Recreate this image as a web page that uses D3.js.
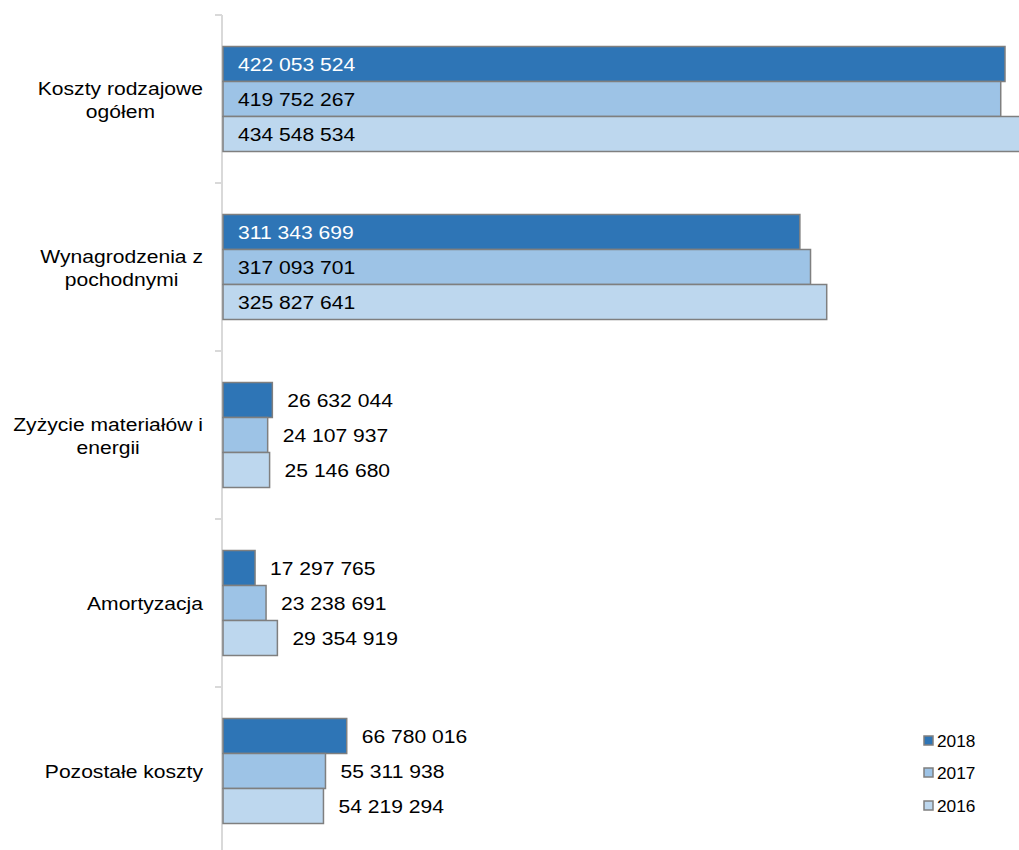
<!DOCTYPE html>
<html><head><meta charset="utf-8">
<script src="https://cdn.jsdelivr.net/npm/d3@7"></script>
<style>body{margin:0;background:#fff}svg{display:block}text{font-family:"Liberation Sans",Arial,sans-serif}</style>
</head><body>
<svg id="c" width="1019" height="850"></svg>
<script>
const categories = [["Koszty rodzajowe","ogółem"],["Wynagrodzenia z","pochodnymi"],["Zyżycie materiałów i","energii"],["Amortyzacja"],["Pozostałe koszty"]];
const seriesNames = ["2018","2017","2016"];
const seriesColors = ["#2e75b6","#9dc3e6","#bdd7ee"];
const values2018 = [422053524, 311343699, 26632044, 17297765, 66780016];
const values2017 = [419752267, 317093701, 24107937, 23238691, 55311938];
const values2016 = [434548534, 325827641, 25146680, 29354919, 54219294];
const seriesValues = [values2018, values2017, values2016];

const svg = d3.select("#c");
const SX = 1.14, FS = 18.5;
const x0 = 223;
const k = 782 / 422053524;
const x = d3.scaleLinear().domain([0, 450000000]).range([x0, x0 + 450000000 * k]);
const y = d3.scaleBand().domain(d3.range(categories.length)).range([15, 855]).paddingInner(0.375).paddingOuter(0.1875);
const ys = d3.scaleBand().domain(d3.range(seriesNames.length)).range([0, y.bandwidth()]);
const fmt = v => String(v).replace(/\B(?=(\d{3})+(?!\d))/g, " ");

function txt(px, py, s, opts = {}) {
  return svg.append("text")
    .attr("transform", `translate(${px},${py}) scale(${opts.sx || SX},1)`)
    .attr("text-anchor", opts.anchor || "start")
    .attr("font-size", opts.fs || FS)
    .attr("fill", opts.fill || "#000")
    .text(s);
}

// axis
svg.append("line").attr("x1", 222).attr("x2", 222).attr("y1", 15).attr("y2", 850).attr("stroke", "#d9d9d9").attr("stroke-width", 2);
const step = y.step();
for (let i = 0; i < categories.length; i++) {
  const yy = 15 + step * i;
  svg.append("line").attr("x1", 215).attr("x2", 222).attr("y1", yy).attr("y2", yy).attr("stroke", "#d9d9d9").attr("stroke-width", 2);
}

categories.forEach((cat, i) => {
  const cy = y(i) + y.bandwidth() / 2;
  const n = cat.length;
  // measure widest line
  const widths = cat.map(line => {
    const t = txt(0, -100, line);
    const w = t.node().getComputedTextLength() * SX;
    t.remove();
    return w;
  });
  const maxW = Math.max(...widths);
  const cx = 203 - maxW / 2;
  cat.forEach((line, j) => {
    txt(cx, cy + 7 + (j - (n - 1) / 2) * 23, line, { anchor: "middle" });
  });
  seriesValues.forEach((vals, s) => {
    const v = vals[i];
    const by = y(i) + ys(s);
    const bw = x(v) - x0;
    svg.append("rect").attr("x", x0).attr("y", by).attr("width", bw).attr("height", ys.bandwidth())
      .attr("fill", seriesColors[s]).attr("stroke", "#7f7f7f").attr("stroke-width", 1.5);
    const inside = bw > 200;
    txt(inside ? x0 + 15 : x(v) + 15, by + ys.bandwidth() / 2 + 6.5, fmt(v), { fill: inside && s === 0 ? "#fff" : "#000" });
  });
});

// legend
const ly = [741, 773, 806];
seriesNames.forEach((nm, s) => {
  svg.append("rect").attr("x", 924).attr("y", ly[s] - 5).attr("width", 9).attr("height", 9)
    .attr("fill", seriesColors[s]).attr("stroke", "#7f7f7f").attr("stroke-width", 1.5);
  txt(937, ly[s] + 6, nm, { fs: 16, sx: 1.08 });
});
</script>
</body></html>
